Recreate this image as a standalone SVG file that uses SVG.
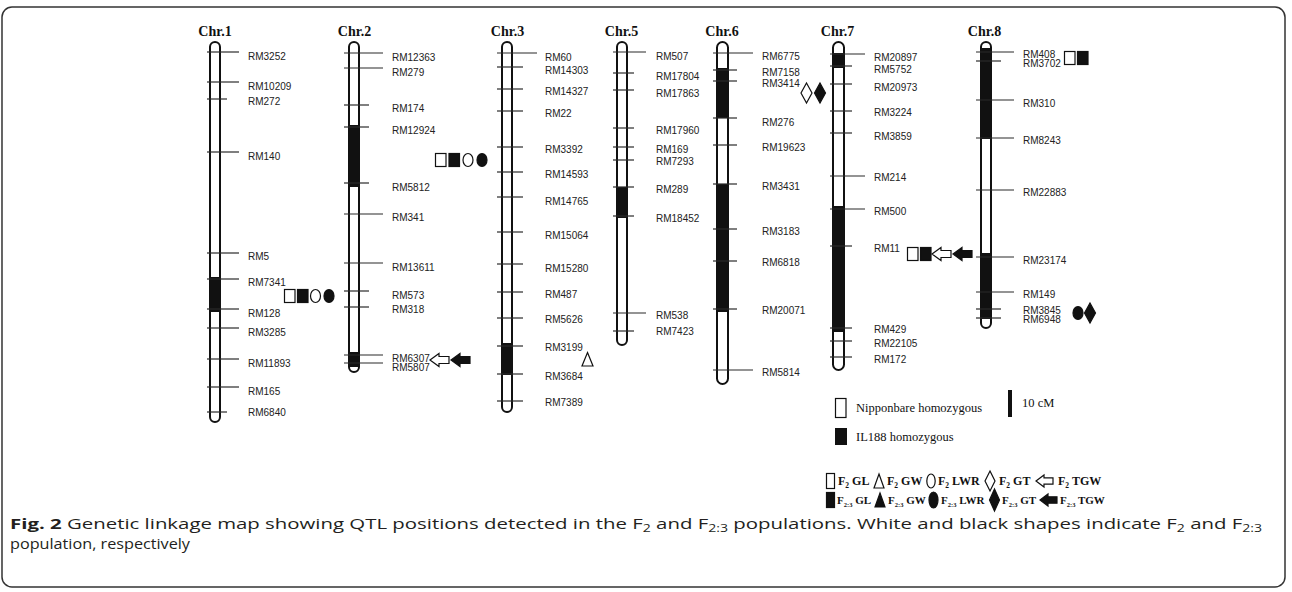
<svg xmlns="http://www.w3.org/2000/svg" width="1292" height="592" viewBox="0 0 1292 592">
<style>
.ttl{font-family:"Liberation Serif","Times New Roman",serif;font-weight:bold;font-size:14px;text-anchor:middle;fill:#111}
.m{font-family:"Liberation Sans",Arial,sans-serif;font-size:10px;fill:#222}
.t{stroke:#2a2a2a;stroke-width:1.2}
.bar{fill:#fff}
.outl{fill:none;stroke:#111;stroke-width:2}
.blk{fill:#111}
.wsh{fill:#fff;stroke:#111;stroke-width:1.2}
.bsh{fill:#111;stroke:#111;stroke-width:1.2}
.leg{font-family:"Liberation Serif","Times New Roman",serif;font-size:12.5px;fill:#111}
.lg{font-family:"Liberation Serif","Times New Roman",serif;font-size:12px;font-weight:bold;fill:#111}
.lg2{font-family:"Liberation Serif","Times New Roman",serif;font-size:11px;font-weight:bold;fill:#111}
.sb{font-size:7.5px}
.sb2{font-size:6.5px}
.cap{font-family:"Open Sans","Liberation Sans",Arial,sans-serif;font-size:14.5px;fill:#231f20}
</style>
<defs>
<path id="arr" d="M0 0 L9 -6.5 L9 -3.5 L19 -3.5 L19 3.5 L9 3.5 L9 6.5 Z"/>
<path id="larr" d="M0 0 L8 -6 L8 -3.2 L17 -3.2 L17 3.2 L8 3.2 L8 6 Z"/>
<path id="dia" d="M0 -10 L5.5 0 L0 10 L-5.5 0 Z"/>
</defs>
<rect x="2" y="7" width="1283" height="580" rx="10" fill="#fff" stroke="#333" stroke-width="1.5"/>

<g id="chr1">
<text class="ttl" x="215" y="36">Chr.1</text>
<rect class="bar" x="210" y="42" width="10" height="380" rx="5"/>
<rect class="blk" x="210" y="277" width="10" height="35"/>
<rect class="outl" x="210" y="42" width="10" height="380" rx="5"/>
<line class="t" x1="207" y1="52" x2="239" y2="52"/><text class="m" x="248" y="60">RM3252</text>
<line class="t" x1="207" y1="82" x2="239" y2="82"/><text class="m" x="248" y="89.5">RM10209</text>
<line class="t" x1="207" y1="99" x2="227" y2="99"/><text class="m" x="248" y="104.5">RM272</text>
<line class="t" x1="207" y1="152" x2="239" y2="152"/><text class="m" x="248" y="159.5">RM140</text>
<line class="t" x1="207" y1="253" x2="239" y2="253"/><text class="m" x="248" y="259.5">RM5</text>
<line class="t" x1="207" y1="279" x2="239" y2="279"/><text class="m" x="248" y="285.5">RM7341</text>
<line class="t" x1="207" y1="309" x2="239" y2="309"/><text class="m" x="248" y="316.5">RM128</text>
<line class="t" x1="207" y1="328" x2="239" y2="328"/><text class="m" x="248" y="335.5">RM3285</text>
<line class="t" x1="207" y1="359" x2="239" y2="359"/><text class="m" x="248" y="366.5">RM11893</text>
<line class="t" x1="207" y1="387" x2="239" y2="387"/><text class="m" x="248" y="394.5">RM165</text>
<line class="t" x1="207" y1="412" x2="227" y2="412"/><text class="m" x="248" y="415.5">RM6840</text>
<rect class="wsh" x="284.5" y="289.5" width="10.5" height="13"/>
<rect class="bsh" x="297.5" y="289.5" width="10.5" height="13"/>
<ellipse class="wsh" cx="315.5" cy="296" rx="5" ry="6.5"/>
<ellipse class="bsh" cx="329" cy="296" rx="5" ry="6.5"/>
</g>

<g id="chr2">
<text class="ttl" x="354.5" y="36">Chr.2</text>
<rect class="bar" x="349" y="42" width="10" height="330" rx="5"/>
<rect class="blk" x="349" y="125" width="10" height="62"/>
<rect class="blk" x="349" y="352" width="10" height="15"/>
<rect class="outl" x="349" y="42" width="10" height="330" rx="5"/>
<line class="t" x1="344" y1="53" x2="383" y2="53"/><text class="m" x="392" y="60.5">RM12363</text>
<line class="t" x1="344" y1="68" x2="383" y2="68"/><text class="m" x="392" y="75.5">RM279</text>
<line class="t" x1="344" y1="105" x2="369" y2="105"/><text class="m" x="392" y="111.5">RM174</text>
<line class="t" x1="344" y1="127" x2="369" y2="127"/><text class="m" x="392" y="133.5">RM12924</text>
<line class="t" x1="344" y1="183" x2="369" y2="183"/><text class="m" x="392" y="190.5">RM5812</text>
<line class="t" x1="344" y1="214" x2="383" y2="214"/><text class="m" x="392" y="220.5">RM341</text>
<line class="t" x1="344" y1="263" x2="383" y2="263"/><text class="m" x="392" y="270.5">RM13611</text>
<line class="t" x1="344" y1="291" x2="369" y2="291"/><text class="m" x="392" y="298.5">RM573</text>
<line class="t" x1="344" y1="307" x2="369" y2="307"/><text class="m" x="392" y="312.5">RM318</text>
<line class="t" x1="344" y1="355" x2="383" y2="355"/><text class="m" x="392" y="361.5">RM6307</text>
<line class="t" x1="344" y1="363" x2="383" y2="363"/><text class="m" x="392" y="370.5">RM5807</text>
<rect class="wsh" x="435.5" y="153.5" width="10.5" height="13"/>
<rect class="bsh" x="449" y="153.5" width="10.5" height="13"/>
<ellipse class="wsh" cx="468" cy="160" rx="5" ry="6.5"/>
<ellipse class="bsh" cx="482" cy="160" rx="5" ry="6.5"/>
<use href="#arr" class="wsh" x="430" y="360"/>
<use href="#arr" class="bsh" x="451" y="360"/>
</g>

<g id="chr3">
<text class="ttl" x="507.5" y="36">Chr.3</text>
<rect class="bar" x="502" y="42" width="10" height="370" rx="5"/>
<rect class="blk" x="502" y="343" width="10" height="32"/>
<rect class="outl" x="502" y="42" width="10" height="370" rx="5"/>
<line class="t" x1="497" y1="53" x2="537" y2="53"/><text class="m" x="545" y="60.5">RM60</text>
<line class="t" x1="497" y1="67" x2="523" y2="67"/><text class="m" x="545" y="73.5">RM14303</text>
<line class="t" x1="497" y1="89" x2="523" y2="89"/><text class="m" x="545" y="94.5">RM14327</text>
<line class="t" x1="497" y1="111" x2="523" y2="111"/><text class="m" x="545" y="116.5">RM22</text>
<line class="t" x1="497" y1="147" x2="523" y2="147"/><text class="m" x="545" y="152.5">RM3392</text>
<line class="t" x1="497" y1="172" x2="523" y2="172"/><text class="m" x="545" y="177.5">RM14593</text>
<line class="t" x1="497" y1="197" x2="523" y2="197"/><text class="m" x="545" y="204.5">RM14765</text>
<line class="t" x1="497" y1="232" x2="523" y2="232"/><text class="m" x="545" y="238.5">RM15064</text>
<line class="t" x1="497" y1="264" x2="523" y2="264"/><text class="m" x="545" y="271.5">RM15280</text>
<line class="t" x1="497" y1="292" x2="523" y2="292"/><text class="m" x="545" y="297.5">RM487</text>
<line class="t" x1="497" y1="318" x2="523" y2="318"/><text class="m" x="545" y="322.5">RM5626</text>
<line class="t" x1="497" y1="346" x2="523" y2="346"/><text class="m" x="545" y="350.5">RM3199</text>
<line class="t" x1="497" y1="374" x2="523" y2="374"/><text class="m" x="545" y="379.5">RM3684</text>
<line class="t" x1="497" y1="401" x2="523" y2="401"/><text class="m" x="545" y="405.5">RM7389</text>
<path class="wsh" d="M587.5 352.5 L593 366 L582 366 Z"/>
</g>

<g id="chr5">
<text class="ttl" x="621.5" y="36">Chr.5</text>
<rect class="bar" x="617" y="42" width="10" height="303" rx="5"/>
<rect class="blk" x="617" y="187" width="10" height="31"/>
<rect class="outl" x="617" y="42" width="10" height="303" rx="5"/>
<line class="t" x1="613" y1="52" x2="646" y2="52"/><text class="m" x="656" y="59.5">RM507</text>
<line class="t" x1="613" y1="73" x2="634" y2="73"/><text class="m" x="656" y="79.5">RM17804</text>
<line class="t" x1="613" y1="90" x2="634" y2="90"/><text class="m" x="656" y="96.5">RM17863</text>
<line class="t" x1="613" y1="128" x2="634" y2="128"/><text class="m" x="656" y="133.5">RM17960</text>
<line class="t" x1="613" y1="147" x2="634" y2="147"/><text class="m" x="656" y="152.5">RM169</text>
<line class="t" x1="613" y1="160" x2="634" y2="160"/><text class="m" x="656" y="164.5">RM7293</text>
<line class="t" x1="613" y1="187" x2="634" y2="187"/><text class="m" x="656" y="192.5">RM289</text>
<line class="t" x1="613" y1="216" x2="634" y2="216"/><text class="m" x="656" y="221.5">RM18452</text>
<line class="t" x1="613" y1="313" x2="646" y2="313"/><text class="m" x="656" y="318.5">RM538</text>
<line class="t" x1="613" y1="331" x2="634" y2="331"/><text class="m" x="656" y="334.5">RM7423</text>
</g>

<g id="chr6">
<text class="ttl" x="722" y="36">Chr.6</text>
<rect class="bar" x="717" y="42" width="11" height="342" rx="5.5"/>
<rect class="blk" x="717" y="68" width="11" height="50"/>
<rect class="blk" x="717" y="184" width="11" height="128"/>
<rect class="outl" x="717" y="42" width="11" height="342" rx="5.5"/>
<line class="t" x1="713" y1="53" x2="753" y2="53"/><text class="m" x="762" y="59.5">RM6775</text>
<line class="t" x1="713" y1="70" x2="737" y2="70"/><text class="m" x="762" y="75.5">RM7158</text>
<line class="t" x1="713" y1="81" x2="737" y2="81"/><text class="m" x="762" y="86.5">RM3414</text>
<line class="t" x1="713" y1="118" x2="737" y2="118"/><text class="m" x="762" y="125.5">RM276</text>
<line class="t" x1="713" y1="145" x2="737" y2="145"/><text class="m" x="762" y="150.5">RM19623</text>
<line class="t" x1="713" y1="184" x2="737" y2="184"/><text class="m" x="762" y="189.5">RM3431</text>
<line class="t" x1="713" y1="229" x2="737" y2="229"/><text class="m" x="762" y="234.5">RM3183</text>
<line class="t" x1="713" y1="261" x2="737" y2="261"/><text class="m" x="762" y="265.5">RM6818</text>
<line class="t" x1="713" y1="309" x2="737" y2="309"/><text class="m" x="762" y="313.5">RM20071</text>
<line class="t" x1="713" y1="370" x2="753" y2="370"/><text class="m" x="762" y="375.5">RM5814</text>
<use href="#dia" class="wsh" x="806.5" y="93"/>
<use href="#dia" class="bsh" x="820" y="93"/>
</g>

<g id="chr7">
<text class="ttl" x="837.5" y="36">Chr.7</text>
<rect class="bar" x="833" y="42" width="11" height="328" rx="5.5"/>
<rect class="blk" x="833" y="53" width="11" height="15"/>
<rect class="blk" x="833" y="206" width="11" height="126"/>
<rect class="outl" x="833" y="42" width="11" height="328" rx="5.5"/>
<line class="t" x1="830" y1="54" x2="865" y2="54"/><text class="m" x="874" y="60.5">RM20897</text>
<line class="t" x1="830" y1="66" x2="852" y2="66"/><text class="m" x="874" y="72.5">RM5752</text>
<line class="t" x1="830" y1="84" x2="852" y2="84"/><text class="m" x="874" y="90.5">RM20973</text>
<line class="t" x1="830" y1="111" x2="852" y2="111"/><text class="m" x="874" y="115.5">RM3224</text>
<line class="t" x1="830" y1="133" x2="852" y2="133"/><text class="m" x="874" y="139.5">RM3859</text>
<line class="t" x1="830" y1="176" x2="865" y2="176"/><text class="m" x="874" y="180.5">RM214</text>
<line class="t" x1="830" y1="209" x2="865" y2="209"/><text class="m" x="874" y="214.5">RM500</text>
<line class="t" x1="830" y1="246" x2="852" y2="246"/><text class="m" x="874" y="251.5">RM11</text>
<line class="t" x1="830" y1="328" x2="852" y2="328"/><text class="m" x="874" y="332.5">RM429</text>
<line class="t" x1="830" y1="341" x2="852" y2="341"/><text class="m" x="874" y="346.5">RM22105</text>
<line class="t" x1="830" y1="357" x2="852" y2="357"/><text class="m" x="874" y="362.5">RM172</text>
<rect class="wsh" x="907.5" y="247.5" width="10.5" height="13"/>
<rect class="bsh" x="920.5" y="247.5" width="10.5" height="13"/>
<use href="#arr" class="wsh" x="932" y="254"/>
<use href="#arr" class="bsh" x="953" y="254"/>
</g>

<g id="chr8">
<text class="ttl" x="984.5" y="36">Chr.8</text>
<rect class="bar" x="981" y="42" width="10" height="286" rx="5"/>
<rect class="blk" x="981" y="48" width="10" height="91"/>
<rect class="blk" x="981" y="253" width="10" height="66"/>
<rect class="outl" x="981" y="42" width="10" height="286" rx="5"/>
<line class="t" x1="976" y1="52" x2="1014" y2="52"/><text class="m" x="1023" y="57.5">RM408</text>
<line class="t" x1="976" y1="61" x2="1001" y2="61"/><text class="m" x="1023" y="66.5">RM3702</text>
<line class="t" x1="976" y1="100" x2="1014" y2="100"/><text class="m" x="1023" y="106.5">RM310</text>
<line class="t" x1="976" y1="138" x2="1014" y2="138"/><text class="m" x="1023" y="143.5">RM8243</text>
<line class="t" x1="976" y1="190" x2="1014" y2="190"/><text class="m" x="1023" y="195.5">RM22883</text>
<line class="t" x1="976" y1="257" x2="1014" y2="257"/><text class="m" x="1023" y="263.5">RM23174</text>
<line class="t" x1="976" y1="292" x2="1014" y2="292"/><text class="m" x="1023" y="297.5">RM149</text>
<line class="t" x1="976" y1="309" x2="1001" y2="309"/><text class="m" x="1023" y="314">RM3845</text>
<line class="t" x1="976" y1="318" x2="1001" y2="318"/><text class="m" x="1023" y="322.5">RM6948</text>
<rect class="wsh" x="1064.5" y="51.5" width="10.5" height="13"/>
<rect class="bsh" x="1077.5" y="51.5" width="10.5" height="13"/>
<ellipse class="bsh" cx="1078" cy="313" rx="5" ry="6.5"/>
<use href="#dia" class="bsh" x="1090" y="313"/>
</g>

<g id="connectors"></g>

<g id="legend">
<rect class="wsh" x="835.5" y="398.5" width="10.5" height="19"/>
<text class="leg" x="856" y="412">Nipponbare homozygous</text>
<rect class="blk" x="835" y="428" width="12" height="17"/>
<text class="leg" x="856" y="441">IL188 homozygous</text>
<rect class="blk" x="1008" y="390" width="4" height="27"/>
<text class="leg" x="1022" y="407">10 cM</text>

<rect class="wsh" x="826.5" y="473.5" width="8" height="15"/>
<text class="lg" x="838" y="485">F<tspan class="sb" dy="2.5">2</tspan><tspan dy="-2.5"> GL</tspan></text>
<path class="wsh" d="M879 474 L884 488 L874 488 Z"/>
<text class="lg" x="887" y="485">F<tspan class="sb" dy="2.5">2</tspan><tspan dy="-2.5"> GW</tspan></text>
<ellipse class="wsh" cx="931" cy="481" rx="4.2" ry="7"/>
<text class="lg" x="938" y="485">F<tspan class="sb" dy="2.5">2</tspan><tspan dy="-2.5"> LWR</tspan></text>
<path class="wsh" d="M990 471 L995 481 L990 491 L985 481 Z"/>
<text class="lg" x="999" y="485">F<tspan class="sb" dy="2.5">2</tspan><tspan dy="-2.5"> GT</tspan></text>
<use href="#larr" class="wsh" x="1036" y="481"/>
<text class="lg" x="1058" y="485">F<tspan class="sb" dy="2.5">2</tspan><tspan dy="-2.5"> TGW</tspan></text>

<rect class="bsh" x="826.5" y="492.5" width="8" height="15"/>
<text class="lg2" x="837" y="504">F<tspan class="sb2" dy="2.5">2:3</tspan><tspan dy="-2.5"> GL</tspan></text>
<path class="bsh" d="M880 493 L885 507 L875 507 Z"/>
<text class="lg2" x="888" y="504">F<tspan class="sb2" dy="2.5">2:3</tspan><tspan dy="-2.5"> GW</tspan></text>
<ellipse class="bsh" cx="933.5" cy="500" rx="4.5" ry="8"/>
<text class="lg2" x="941" y="504">F<tspan class="sb2" dy="2.5">2:3</tspan><tspan dy="-2.5"> LWR</tspan></text>
<path class="bsh" d="M994.5 489 L999.5 500 L994.5 511 L989.5 500 Z"/>
<text class="lg2" x="1002" y="504">F<tspan class="sb2" dy="2.5">2:3</tspan><tspan dy="-2.5"> GT</tspan></text>
<use href="#larr" class="bsh" x="1040" y="500"/>
<text class="lg2" x="1060" y="504">F<tspan class="sb2" dy="2.5">2:3</tspan><tspan dy="-2.5"> TGW</tspan></text>
</g>

<g id="caption">
<text class="cap" x="10" y="529" textLength="1252" lengthAdjust="spacingAndGlyphs"><tspan font-weight="bold">Fig. 2</tspan> Genetic linkage map showing QTL positions detected in the F<tspan font-size="10" dy="3">2</tspan><tspan dy="-3"> and F</tspan><tspan font-size="10" dy="3">2:3</tspan><tspan dy="-3"> populations. White and black shapes indicate F</tspan><tspan font-size="10" dy="3">2</tspan><tspan dy="-3"> and F</tspan><tspan font-size="10" dy="3">2:3</tspan></text>
<text class="cap" x="10" y="549" textLength="180" lengthAdjust="spacingAndGlyphs">population, respectively</text>
</g>
</svg>
